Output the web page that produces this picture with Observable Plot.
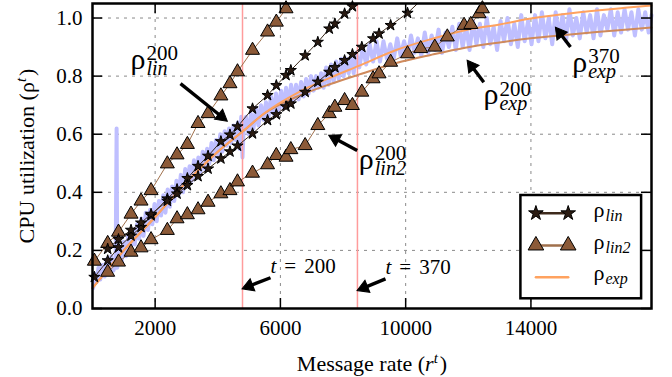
<!DOCTYPE html>
<html><head><meta charset="utf-8">
<script src="https://cdn.jsdelivr.net/npm/d3@7"></script>
<script src="https://cdn.jsdelivr.net/npm/@observablehq/plot@0.6"></script>
<style>body{margin:0;background:#fff} svg text{font-family:'Liberation Serif','Times New Roman',serif;}</style>
</head><body><div id="chart"></div>
<script>
// ---------- data ----------
const xTicks = [2000, 6000, 10000, 14000];
const yTicks = [0, 0.2, 0.4, 0.6, 0.8, 1.0];
const tRates = [4790, 8460];
const tLabels = ["t = 200", "t = 370"];

// sampled message rates (shared by the model predictions)
const rates = [60, 485, 830, 1230, 1550, 1870, 2390, 2700, 3030, 3370, 3690, 4100, 4390, 4630, 5110, 5590, 5870, 6180, 6333, 6790, 7195, 7560, 7740, 8050, 8300, 8600, 8960, 9150, 9520, 10060, 10480, 10930, 11330, 11865, 12080, 12345, 12450];
const linA  = [0.108, 0.165, 0.21, 0.25, 0.28, 0.32, 0.378, 0.41, 0.448, 0.49, 0.525, 0.575, 0.598, 0.626, 0.688, 0.734, 0.768, 0.803, 0.82, 0.871, 0.917, 0.963, 0.98, 1.015, 1.04, 1.075, null, null, null, null, null, null, null, null, null, null, null];
const linB  = [null, 0.205, 0.238, 0.27, 0.295, 0.325, 0.37, 0.395, 0.424, 0.455, 0.481, 0.516, 0.54, 0.56, 0.602, 0.648, 0.668, 0.695, 0.705, 0.745, 0.78, 0.814, 0.83, 0.854, 0.875, 0.90, 0.929, 0.946, 0.975, 1.017, 1.06, null, null, null, null, null, null];
const lin2A = [0.163, 0.224, 0.263, 0.325, 0.37, 0.406, 0.498, 0.529, 0.565, 0.637, 0.671, 0.732, 0.774, 0.815, 0.889, 0.952, 0.986, 1.032, 1.06, null, null, null, null, null, null, null, null, null, null, null, null, null, null, null, null, null, null];
const lin2B = [null, 0.125, 0.16, 0.194, 0.209, 0.237, 0.269, 0.309, 0.323, 0.34, 0.366, 0.395, 0.406, 0.436, 0.466, 0.495, 0.527, 0.521, 0.547, 0.561, 0.63, 0.671, 0.693, 0.716, 0.699, 0.745, 0.791, 0.808, 0.848, 0.877, 0.895, 0.90, 0.935, 0.975, 0.978, 1.015, 1.032];

// exponential fits
const expRate = [0, 1000, 2000, 3000, 4000, 4800, 5500, 6500, 7600, 8500, 9700, 10800, 11900, 13000, 14000, 15000, 16100, 17000, 17850];
const exp200  = [0.07, 0.20, 0.315, 0.435, 0.54, 0.61, 0.672, 0.728, 0.773, 0.805, 0.845, 0.873, 0.898, 0.916, 0.93, 0.941, 0.952, 0.96, 0.967];
const exp370  = [0.07, 0.20, 0.315, 0.435, 0.54, 0.61, 0.673, 0.74, 0.795, 0.835, 0.89, 0.927, 0.958, 0.978, 0.998, 1.013, 1.026, 1.035, 1.043];

// measured utilization
const blueRate = [20,70,130,190,250,320,390,460,530,600,670,740,770,790,860,930,
1000,1070,1140,1210,1280,1350,1420,1490,1560,1630,1700,1770,1840,1910,1980,2050,2120,2190,2260,2330,2400,2470,2540,2610,2680,2750,2820,2890,2960,3030,3100,3170,3240,3310,3380,3450,3520,3590,3660,3730,3800,3870,3940,4010,4080,4150,4220,4290,4360,4430,4500,4570,4640,4700,4750,4790,4830,
4900,4980,5060,5140,5220,5300,5380,5460,5540,5620,5700,5780,5860,5940,6020,6100,6180,6260,6340,6420,6500,6580,6660,6740,6820,6900,6980,7060,7140,7220,7300,
7380,7460,7540,7620,7700,7780,7860,7940,8020,8100,8180,8260,8340,8420,
8520,8630,8740,8850,8960,9070,9180,9290,9400,9510,9620,9730,9840,9950,10060,10170,10280,10390,10500,10610,10720,10830,10940,11050,11160,11270,11380,11490,
11600,11710,11820,11930,12040,12150,12260,12370,12480,12590,12700,12810,12920,13030,13140,13250,13360,13470,13580,13690,13800,13910,14020,14130,
14240,14350,14460,14570,14680,14790,14900,15010,15120,15230,15340,15450,15560,15670,15780,15890,16000,16110,16220,16330,16440,16550,16660,16770,16880,16990,17100,17210,17320,17430,17540,17650,17760,17850];
const blueUtil = [0.07,0.12,0.09,0.14,0.10,0.15,0.11,0.17,0.12,0.18,0.13,0.17,0.62,0.14,0.21,0.16,
0.23,0.18,0.25,0.20,0.27,0.22,0.29,0.24,0.31,0.25,0.33,0.27,0.34,0.29,0.36,0.30,0.37,0.32,0.39,0.33,0.41,0.35,0.42,0.37,0.44,0.39,0.46,0.40,0.48,0.42,0.49,0.44,0.51,0.45,0.52,0.47,0.54,0.48,0.55,0.50,0.57,0.51,0.58,0.53,0.60,0.54,0.61,0.56,0.62,0.57,0.63,0.58,0.64,0.55,0.66,0.52,0.63,
0.66,0.60,0.67,0.62,0.69,0.63,0.70,0.65,0.71,0.66,0.73,0.67,0.74,0.68,0.75,0.69,0.76,0.70,0.77,0.71,0.77,0.72,0.78,0.73,0.79,0.74,0.80,0.75,0.80,0.76,0.81,
0.76,0.83,0.77,0.84,0.78,0.85,0.79,0.86,0.80,0.86,0.81,0.87,0.81,0.88,
0.83,0.90,0.84,0.91,0.85,0.92,0.85,0.92,0.86,0.91,0.86,0.93,0.87,0.92,0.87,0.94,0.88,0.93,0.87,0.95,0.88,0.94,0.89,0.96,0.88,0.95,0.90,0.97,
0.89,0.98,0.90,0.97,0.89,0.99,0.91,0.98,0.90,1.00,0.91,0.97,0.89,0.99,0.92,1.00,0.91,0.98,0.90,1.01,0.92,0.99,0.91,1.01,
0.92,1.02,0.93,1.00,0.91,1.02,0.94,1.01,0.92,1.03,0.94,1.00,0.93,1.02,0.95,1.01,0.93,1.03,0.94,1.01,0.96,1.03,0.94,1.02,0.95,1.03,0.96,1.02,0.94,1.03,0.96,1.02,0.95,1.01];

// ---------- annotations (data coordinates) ----------
const annoLabels = [
  {x: 1213, y: 0.825, base: "ρ", sub: "lin", sup: "200"},
  {x: 8503, y: 0.481, base: "ρ", sub: "lin2", sup: "200"},
  {x: 12485, y: 0.704, base: "ρ", sub: "exp", sup: "200"},
  {x: 15318, y: 0.815, base: "ρ", sub: "exp", sup: "370"}
];
const annoArrows = [
  {x1: 2810, y1: 0.774, x2: 4301, y2: 0.645},
  {x1: 8452, y1: 0.544, x2: 7546, y2: 0.596},
  {x1: 12495, y1: 0.779, x2: 11965, y2: 0.854},
  {x1: 15263, y1: 0.900, x2: 14784, y2: 0.968},
  {x1: 5684, y1: 0.106, x2: 4780, y2: 0.068},
  {x1: 9356, y1: 0.102, x2: 8452, y2: 0.062}
];
const tText = [{x: 5684, y: 0.1215}, {x: 9356, y: 0.1194}];
// legend box & rows (data coordinates)
const legendBox = [{x1: 13680, x2: 17534, y1: 0.0334, y2: 0.389}];
const legendSymX = [14159, 15190];
const legendRowY = [0.328, 0.217, 0.108];
const legendTextX = 15998;
const legendTextY = [0.3146, 0.2048, 0.0964];
const legendSubs = ["lin", "lin2", "exp"];

// ---------- build ----------
const pts = (ys) => rates.map((x, i) => ({x, y: ys[i]})).filter(d => d.y != null);
const inFrame = (arr) => arr.filter(d => d.y <= 1.05);
const curveOf = (ys) => expRate.map((x, i) => ({x, y: ys[i]}));
const blue = blueRate.map((x, i) => ({x, y: blueUtil[i]}));

const FONT = "Liberation Serif";
const C = {
  blue: "#bfbfff", red: "#ff9c9c", light: "#ffa25f", dark: "#cf8a5c",
  starFill: "#2a1b12", starLine: "#3b2819", triFill: "#8c5a38", triLine: "#a0704c"
};
const T = {fontFamily: FONT, textAnchor: "start", lineAnchor: "bottom"};

const baseOptions = {
  width: 672, height: 377,
  marginLeft: 92, marginRight: 21, marginTop: 3, marginBottom: 69,
  x: {domain: [0, 17850]},
  y: {domain: [0, 1.05]},
  style: {fontFamily: FONT, fontSize: "21px", background: "white", color: "black", overflow: "visible"}
};

function marks(heads, shafts) {
  return [
    Plot.gridX({ticks: xTicks, stroke: "#8a8a8a", strokeOpacity: 1, strokeDasharray: "3,5"}),
    Plot.gridY({ticks: yTicks, stroke: "#8a8a8a", strokeOpacity: 1, strokeDasharray: "3,5"}),
    Plot.line(blue, {x: "x", y: "y", stroke: C.blue, strokeWidth: 4}),
    Plot.ruleX(tRates, {stroke: C.red, strokeWidth: 1.5}),
    Plot.line(curveOf(exp200), {x: "x", y: "y", stroke: C.dark, strokeWidth: 2, curve: "monotone-x"}),
    Plot.line(curveOf(exp370), {x: "x", y: "y", stroke: C.light, strokeWidth: 2, curve: "monotone-x"}),
    Plot.line(pts(lin2A), {x: "x", y: "y", stroke: C.triLine, strokeWidth: 1, clip: true}),
    Plot.line(pts(lin2B), {x: "x", y: "y", stroke: C.triLine, strokeWidth: 1, clip: true}),
    Plot.line(pts(linA), {x: "x", y: "y", stroke: C.starLine, strokeWidth: 1, clip: true}),
    Plot.line(pts(linB), {x: "x", y: "y", stroke: C.starLine, strokeWidth: 1, clip: true}),
    Plot.dot(inFrame(pts(lin2A)), {x: "x", y: "y", symbol: "triangle", r: 5.2, fill: C.triFill, stroke: "black", strokeWidth: 1}),
    Plot.dot(inFrame(pts(lin2B)), {x: "x", y: "y", symbol: "triangle", r: 5.2, fill: C.triFill, stroke: "black", strokeWidth: 1}),
    Plot.dot(inFrame(pts(linA)), {x: "x", y: "y", symbol: "star", r: 3.5, fill: C.starFill, stroke: "black", strokeWidth: 1}),
    Plot.dot(inFrame(pts(linB)), {x: "x", y: "y", symbol: "star", r: 3.5, fill: C.starFill, stroke: "black", strokeWidth: 1}),
    Plot.frame({stroke: "black", strokeWidth: 2.5}),
    Plot.tickX(xTicks, {x: d => d, insetTop: 295, stroke: "black", strokeWidth: 1.5}),
    Plot.tickX(xTicks, {x: d => d, insetBottom: 295, stroke: "black", strokeWidth: 1.5}),
    Plot.tickY(yTicks, {y: d => d, insetRight: 549, stroke: "black", strokeWidth: 1.5}),
    Plot.tickY(yTicks, {y: d => d, insetLeft: 549, stroke: "black", strokeWidth: 1.5}),
    Plot.axisX({ticks: xTicks, tickFormat: "d", tickSize: 0, tickPadding: 12, label: null, fontFamily: FONT, fontSize: 21}),
    Plot.axisY({ticks: yTicks, tickFormat: ".1f", tickSize: 0, tickPadding: 10, label: null, fontFamily: FONT, fontSize: 21}),
    Plot.text(["Message rate (r^t)"], {frameAnchor: "bottom", dy: 62, lineAnchor: "bottom", textAnchor: "middle", fontSize: 22, fontFamily: FONT}),
    Plot.text(["CPU utilization (ρ^t)"], {frameAnchor: "left", dx: -59, rotate: -90, lineAnchor: "bottom", textAnchor: "middle", fontSize: 22, fontFamily: FONT}),
    // annotation arrows: shaft + filled head
    Plot.link(shafts, {x1: "x1", y1: "y1", x2: "x2", y2: "y2", stroke: "black", strokeWidth: 3.4}),
    Plot.dot(heads, {x: "x", y: "y", rotate: "angle", symbol: "triangle", r: 4.8, fill: "black", stroke: "black", strokeWidth: 1}),
    Plot.text(annoLabels, {...T, x: "x", y: "y", text: "base", fontSize: 30}),
    Plot.text(annoLabels, {...T, x: "x", y: "y", text: "sub", fontSize: 20, fontStyle: "italic", dx: 16, dy: 6}),
    Plot.text(annoLabels, {...T, x: "x", y: "y", text: "sup", fontSize: 21, dx: 16, dy: -8.5}),
    Plot.text(tText, {...T, x: "x", y: "y", text: (d, i) => tLabels[i], fontSize: 21}),
    // legend
    Plot.rect(legendBox, {x1: "x1", x2: "x2", y1: "y1", y2: "y2", fill: "white", stroke: "black", strokeWidth: 2.5}),
    Plot.line(legendSymX.map(x => ({x, y: legendRowY[0]})), {x: "x", y: "y", stroke: "#3e2a1c", strokeWidth: 2.5}),
    Plot.dot(legendSymX.map(x => ({x, y: legendRowY[0]})), {x: "x", y: "y", symbol: "star", r: 4.6, fill: C.starFill, stroke: "black", strokeWidth: 1}),
    Plot.line(legendSymX.map(x => ({x, y: legendRowY[1]})), {x: "x", y: "y", stroke: C.triLine, strokeWidth: 2.5}),
    Plot.dot(legendSymX.map(x => ({x, y: legendRowY[1]})), {x: "x", y: "y", symbol: "triangle", r: 5.8, fill: C.triFill, stroke: "black", strokeWidth: 1}),
    Plot.line(legendSymX.map(x => ({x, y: legendRowY[2]})), {x: "x", y: "y", stroke: C.light, strokeWidth: 2.5}),
    Plot.text(legendTextY, {...T, x: () => legendTextX, y: d => d, text: () => "ρ", fontSize: 22}),
    Plot.text(legendTextY, {...T, x: () => legendTextX, y: d => d, text: (d, i) => legendSubs[i], fontSize: 16, fontStyle: "italic", dx: 12, dy: 4})
  ];
}

// first pass to read the scales, then compute arrowheads in screen space
const probe = Plot.plot({...baseOptions, marks: marks([], [])});
const sx = probe.scale("x"), sy = probe.scale("y");
const kx = (sx.range[1] - sx.range[0]) / (sx.domain[1] - sx.domain[0]);
const ky = (sy.range[1] - sy.range[0]) / (sy.domain[1] - sy.domain[0]);
const HEAD = 11; // px, tip-to-base
const heads = [], shafts = [];
for (const a of annoArrows) {
  const dxp = (a.x2 - a.x1) * kx, dyp = (a.y2 - a.y1) * ky;
  const L = Math.hypot(dxp, dyp), ux = dxp / L, uy = dyp / L;
  const angle = Math.atan2(ux, -uy) * 180 / Math.PI;
  const back = HEAD * 2 / 3; // centroid distance from tip
  heads.push({x: a.x2 - ux * back / kx, y: a.y2 - uy * back / ky, angle});
  shafts.push({x1: a.x1, y1: a.y1, x2: a.x2 - ux * (HEAD - 2) / kx, y2: a.y2 - uy * (HEAD - 2) / ky});
}
const chart = Plot.plot({...baseOptions, marks: marks(heads, shafts)});

// rich text (super/subscripts, italics)
function tspan(el, txt, attrs = {}) {
  const t = document.createElementNS("http://www.w3.org/2000/svg", "tspan");
  for (const k in attrs) t.setAttribute(k, attrs[k]);
  t.textContent = txt;
  el.appendChild(t);
}
chart.querySelectorAll("text").forEach(el => {
  const s = el.textContent;
  let m;
  if ((m = s.match(/^(.*\()(ρ|r)\^t\)$/))) {
    el.textContent = "";
    tspan(el, m[1]);
    tspan(el, m[2], m[2] === "r" ? {"font-style": "italic"} : {});
    tspan(el, "t", {"font-style": "italic", "font-size": "15px", "dy": "-8"});
    tspan(el, ")", {"dy": "8", "dx": "2"});
  } else if ((m = s.match(/^t = (\d+)$/))) {
    el.textContent = "";
    tspan(el, "t", {"font-style": "italic"});
    tspan(el, "=", {"dx": "8"});
    tspan(el, m[1], {"dx": "8"});
  }
});
document.getElementById("chart").appendChild(chart);
</script></body></html>
